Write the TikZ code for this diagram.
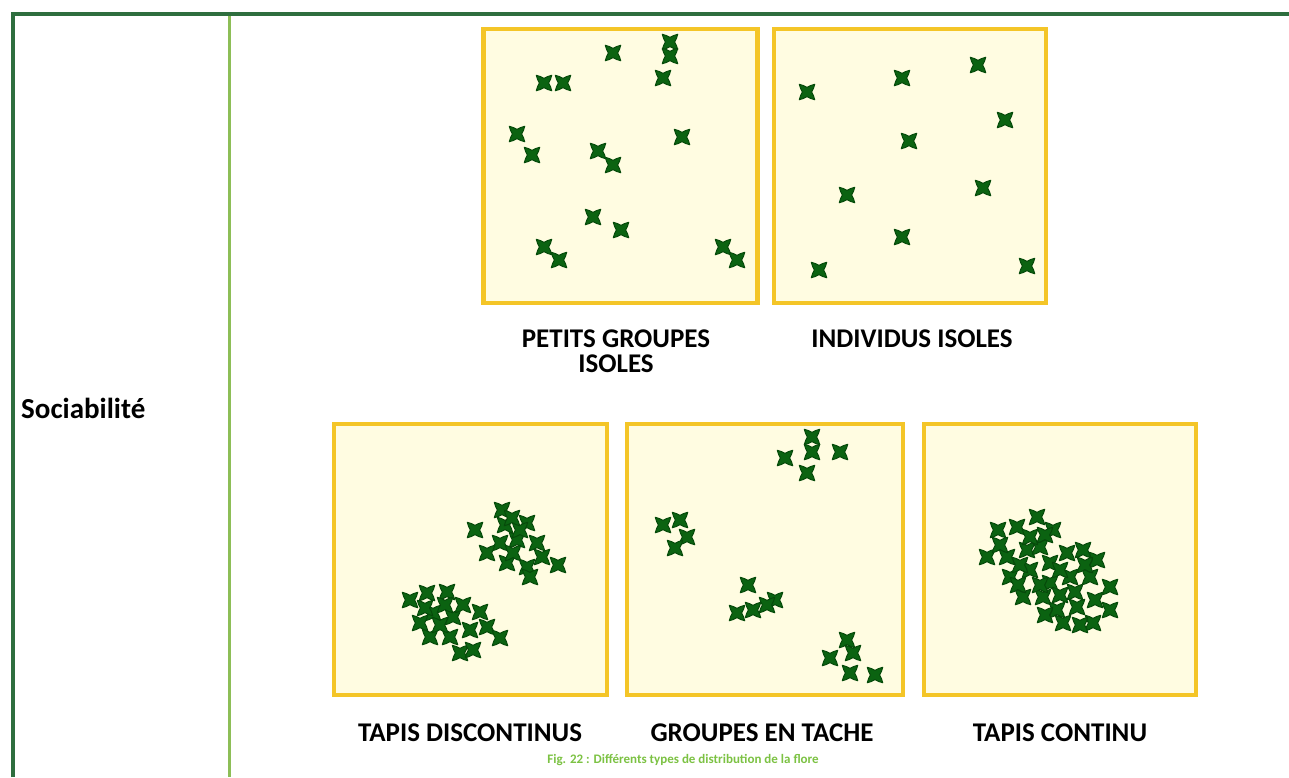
\documentclass[tikz,border=0pt]{standalone}
\usepackage{fontspec}
\setmainfont{Carlito}
\definecolor{framegreen}{HTML}{2E6E3E}
\definecolor{colgreen}{HTML}{8DBE57}
\definecolor{boxgold}{HTML}{F4C527}
\definecolor{boxfill}{HTML}{FFFCE1}
\definecolor{plantc}{HTML}{0B6311}
\definecolor{plantd}{HTML}{064A0A}
\definecolor{capgreen}{HTML}{7CC243}
\tikzset{
  plotbox/.style={draw=boxgold, line width=4.5pt, fill=boxfill, minimum width=274pt, minimum height=274pt, inner sep=0pt},
  lbl/.style={font=\fontsize{27}{29}\selectfont\bfseries, text=black, align=center, inner sep=0pt},
  plant/.pic={
    \filldraw[fill=plantc, draw=plantd, line width=1pt, line join=round]
      (45:11) -- (62:7.2) -- (90:4.6) -- (118:7.2) -- (135:11) -- (152:7.2) -- (180:4.6) -- (208:7.2)
      -- (225:11) -- (242:7.2) -- (270:4.6) -- (298:7.2) -- (315:11) -- (332:7.2) -- (0:4.6) -- (28:7.2) -- cycle;
  }
}
\begin{document}
\begin{tikzpicture}[x=1pt,y=-1pt]
\useasboundingbox (0,0) rectangle (1289,777);
\fill[white] (0,0) rectangle (1289,777);
% frame
\coordinate (tl) at (11,14);
\coordinate (tr) at (1289,14);
\coordinate (bl) at (13,777);
\coordinate (ct) at (229,14);
\coordinate (cb) at (229,777);
\draw[colgreen, line width=3pt] (ct) -- (cb);
\draw[framegreen, line width=4pt] (bl) -- (13,14) -- (tr);
% boxes
\node[plotbox, minimum width=274pt, minimum height=274pt] (b1) at (620.5,166) {};
\node[plotbox, minimum width=272pt, minimum height=274pt] (b2) at (910,166) {};
\node[plotbox, minimum width=273pt, minimum height=271pt] (b3) at (470.5,559.5) {};
\node[plotbox, minimum width=276pt, minimum height=271pt] (b4) at (765,559.5) {};
\node[plotbox, minimum width=272pt, minimum height=271pt] (b5) at (1060,559.5) {};
% box 1 : petits groupes isoles
\foreach \p in {(613,53),(670,42),(670,56),(663,78),(544,83),(563,83),(517,134),(532,155),
  (598,151),(613,165),(682,137),(593,217),(621,230),(544,247),(559,260),(723,247),(737,260)}
  \pic at \p {plant};
% box 2 : individus isoles
\foreach \p in {(807,92),(902,78),(978,65),(1005,120),(909,141),(847,195),(983,188),(902,237),(819,270),(1027,266)}
  \pic at \p {plant};
% box 3 : tapis discontinus
\foreach \p in {(475,530),(502,510),(527,523),(500,543),(517,540),(487,553),(537,543),(507,563),
  (527,567),(558,565),(530,577),(513,553),(542,557),(505,525),(520,530),(512,518),
  (410,600),(427,593),(447,592),(433,613),(453,617),(480,612),(430,637),(450,637),(470,630),
  (487,627),(500,638),(460,653),(473,650),(420,623),(440,625),(463,605),(445,605),(425,608)}
  \pic at \p {plant};
% box 4 : groupes en tache
\foreach \p in {(812,437),(812,452),(785,458),(807,473),(840,452),
  (663,525),(680,520),(687,537),(675,548),
  (748,585),(737,613),(753,610),(775,600),(767,605),
  (847,640),(853,653),(830,658),(850,673),(875,675)}
  \pic at \p {plant};
% box 5 : tapis continu
\foreach \p in {(998,530),(1017,527),(1037,517),(1053,530),(987,557),(1007,557),(1027,550),(1040,547),
  (1010,577),(1030,570),(1050,563),(1067,553),(1083,550),(1097,560),(1070,577),(1090,577),
  (1110,587),(1023,597),(1043,597),(1057,610),(1077,607),(1093,623),(1110,610),(1063,623),
  (1050,583),(1030,537),(1018,585),(1075,592),(1040,585),(1000,545),(1045,535),(1060,595),
  (1080,625),(1095,600),(1085,565),(1020,565),(1060,570),(1045,615)}
  \pic at \p {plant};
% labels
\node[lbl] (l1) at (616,351) {PETITS GROUPES\\[-4pt]ISOLES};
\node[lbl] (l2) at (912,339) {INDIVIDUS ISOLES};
\node[lbl] (l3) at (470,733) {TAPIS DISCONTINUS};
\node[lbl] (l4) at (762,733) {GROUPES EN TACHE};
\node[lbl] (l5) at (1060,733) {TAPIS CONTINU};
\node[lbl, font=\fontsize{29}{31}\selectfont\bfseries, anchor=west] (soc) at (21,408) {Sociabilité};
\node[font=\fontsize{13}{14}\selectfont\bfseries, text=capgreen, inner sep=0pt] (cap) at (683,760) {Fig. 22 : Différents types de distribution de la flore};
\end{tikzpicture}
\end{document}
